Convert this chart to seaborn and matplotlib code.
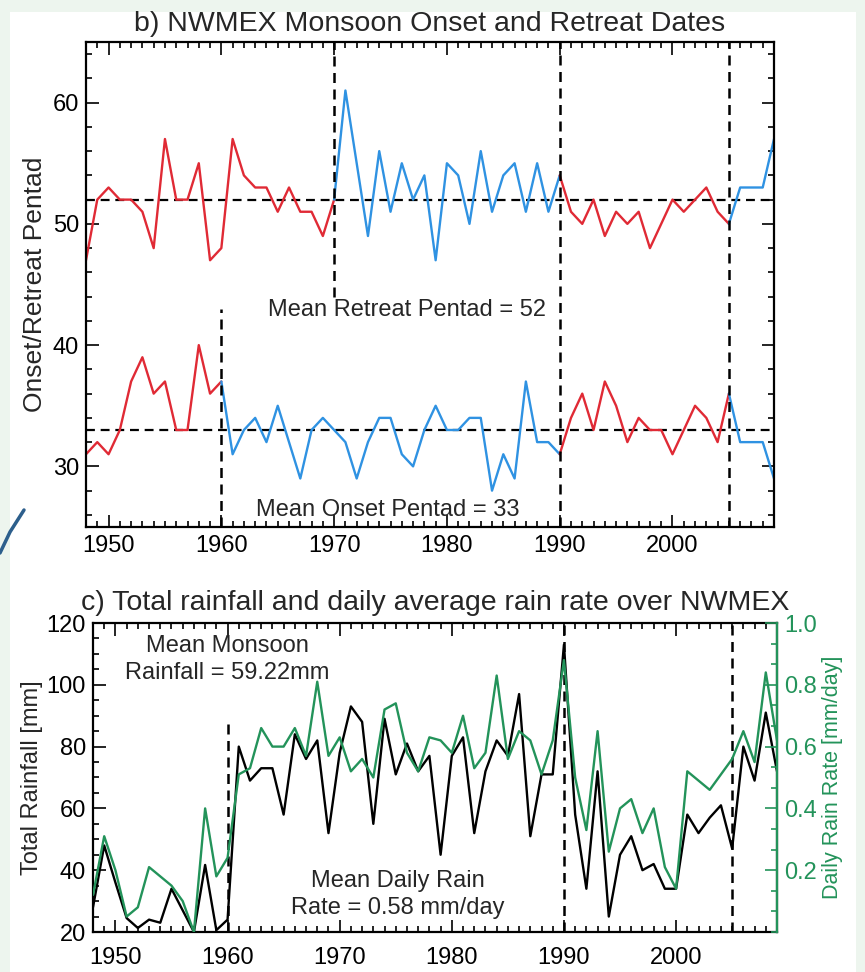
import numpy as np
import pandas as pd
import matplotlib
matplotlib.use("Agg")
import matplotlib.pyplot as plt
import seaborn as sns
from matplotlib.ticker import MultipleLocator, FormatStrFormatter
from matplotlib.lines import Line2D
from matplotlib.patches import Rectangle

# ---------------- data ----------------
years = list(range(1948, 2010))
retreat = [47, 52, 53, 52, 52, 51, 48, 57, 52, 52, 55, 47, 48, 57, 54, 53, 53, 51, 53, 51,
           51, 49, 52, 61, 55, 49, 56, 51, 55, 52, 54, 47, 55, 54, 50, 56, 51, 54, 55, 51,
           55, 51, 54, 51, 50, 52, 49, 51, 50, 51, 48, 50, 52, 51, 52, 53, 51, 50, 53, 53,
           53, 57]
onset = [31, 32, 31, 33, 37, 39, 36, 37, 33, 33, 40, 36, 37, 31, 33, 34, 32, 35, 32, 29,
         33, 34, 33, 32, 29, 32, 34, 34, 31, 30, 33, 35, 33, 33, 34, 34, 28, 31, 29, 37,
         32, 32, 31, 34, 36, 33, 37, 35, 32, 34, 33, 33, 31, 33, 35, 34, 32, 36, 32, 32,
         32, 29]
rainfall = [28, 48, 36, 24.5, 21.3, 24, 23, 34, 27, 20, 41.7, 20.6, 24, 80, 69, 73, 73, 58,
            84, 76, 82, 52, 78, 93, 88, 55, 89, 71, 81, 72, 77, 45, 77, 83, 52, 72, 82, 77,
            97, 51, 71, 71, 113, 58, 34, 72, 25, 45, 51, 40, 42, 34, 34, 58, 52, 57, 61, 47,
            80, 69, 91, 72]
rain_rate = [0.12, 0.31, 0.20, 0.05, 0.08, 0.21, 0.18, 0.15, 0.10, 0.0, 0.40, 0.18, 0.24,
             0.51, 0.53, 0.66, 0.60, 0.60, 0.66, 0.57, 0.81, 0.57, 0.63, 0.52, 0.56, 0.50,
             0.72, 0.74, 0.58, 0.52, 0.63, 0.62, 0.58, 0.70, 0.53, 0.58, 0.83, 0.56, 0.65,
             0.62, 0.51, 0.62, 0.88, 0.50, 0.33, 0.65, 0.26, 0.40, 0.43, 0.32, 0.40, 0.21,
             0.14, 0.52, 0.49, 0.46, 0.51, 0.56, 0.65, 0.55, 0.84, 0.62]
retreat_periods = [(1948, 1970), (1970, 1990), (1990, 2005), (2005, 2009)]
onset_periods = [(1948, 1960), (1960, 1990), (1990, 2005), (2005, 2009)]
mean_retreat = 52
mean_onset = 33
xticks = [1950, 1960, 1970, 1980, 1990, 2000]

RED = "#e02a35"
BLUE = "#2f92e2"
GREEN = "#23935a"

sns.set_theme(style="white")
plt.rcParams['font.family'] = ['Liberation Sans', 'DejaVu Sans']

W, H = 865, 972
fig = plt.figure(figsize=(W / 100, H / 100), dpi=100, facecolor="#edf5ee")
fig.add_artist(Rectangle((10 / W, 0), (856 - 10) / W, (H - 12) / H,
                         transform=fig.transFigure, facecolor="white",
                         edgecolor="none", zorder=0))
fig.add_artist(Line2D([0 / W, 10 / W, 24 / W], [1 - 553 / H, 1 - 532 / H, 1 - 510 / H],
                      transform=fig.transFigure, color="#2d5f8c", lw=2.5))

def fx(px):
    return px / W

def fy(py):
    return 1 - py / H

def style_axis(ax, xpad):
    for s in ax.spines.values():
        s.set_color("black")
        s.set_linewidth(1.6)
    ax.tick_params(which="both", direction="in", top=True, bottom=True,
                   left=True, right=True, colors="black", labelsize=17, width=1.2)
    ax.tick_params(which="major", length=9)
    ax.tick_params(which="minor", length=4.5)
    ax.tick_params(axis="x", pad=xpad)
    ax.tick_params(axis="y", pad=5)

def draw_segments(ax, yrs, vals, periods, colors):
    df = pd.DataFrame({"year": yrs, "val": vals})
    for (a, b), c in zip(periods, colors):
        seg = df[(df.year >= a) & (df.year <= b)]
        sns.lineplot(data=seg, x="year", y="val", ax=ax, color=c, lw=1.7,
                     estimator=None, legend=False)

dash = (0, (4, 2.6))

# ---------------- top panel ----------------
ax1 = fig.add_axes([fx(86), fy(527), fx(774 - 86), (527 - 42) / H])
draw_segments(ax1, years, retreat, retreat_periods, [RED, BLUE, RED, BLUE])
draw_segments(ax1, years, onset, onset_periods, [RED, BLUE, RED, BLUE])
ax1.axhline(mean_retreat, color="black", ls=dash, lw=1.6, zorder=1)
ax1.axhline(mean_onset, color="black", ls=dash, lw=1.6, zorder=1)
ax1.vlines(1970, 44, 65, colors="black", linestyles=dash, lw=1.8)
ax1.vlines(1960, 25, 43, colors="black", linestyles=dash, lw=1.8)
ax1.vlines([1990, 2005], 25, 65, colors="black", linestyles=dash, lw=1.8)
ax1.set_xlim(1948, 2009)
ax1.set_ylim(25, 65)
ax1.set_xticks(xticks)
ax1.xaxis.set_minor_locator(MultipleLocator(1))
ax1.set_yticks([30, 40, 50, 60])
ax1.yaxis.set_minor_locator(MultipleLocator(2))
style_axis(ax1, 6)
ax1.set_xlabel("")
ax1.set_ylabel("Onset/Retreat Pentad", fontsize=19, labelpad=4)
ax1.set_title("b) NWMEX Monsoon Onset and Retreat Dates", fontsize=20.5, pad=8)
ax1.text(0.467, 0.447, f"Mean Retreat Pentad = {mean_retreat}", transform=ax1.transAxes,
         ha="center", va="center", fontsize=17)
ax1.text(0.439, 0.035, f"Mean Onset Pentad = {mean_onset}", transform=ax1.transAxes,
         ha="center", va="center", fontsize=17)

# ---------------- bottom panel ----------------
ax2 = fig.add_axes([fx(93), fy(932), fx(777 - 93), (932 - 623) / H])
ax3 = ax2.twinx()
dfb = pd.DataFrame({"year": years, "rain": rainfall, "rate": rain_rate})
sns.lineplot(data=dfb, x="year", y="rain", ax=ax2, color="black", lw=1.7,
             estimator=None, legend=False)
sns.lineplot(data=dfb, x="year", y="rate", ax=ax3, color=GREEN, lw=1.7,
             estimator=None, legend=False)
ax2.vlines(1960, 20, 89, colors="black", linestyles=dash, lw=1.8)
ax2.vlines([1990, 2005], 20, 120, colors="black", linestyles=dash, lw=1.8)
ax2.set_xlim(1948, 2009)
ax2.set_ylim(20, 120)
ax3.set_ylim(0, 1.0)
ax2.set_xticks(xticks)
ax2.xaxis.set_minor_locator(MultipleLocator(1))
ax2.set_yticks([20, 40, 60, 80, 100, 120])
ax2.yaxis.set_minor_locator(MultipleLocator(5))
ax3.set_yticks([0.2, 0.4, 0.6, 0.8, 1.0])
ax3.yaxis.set_minor_locator(MultipleLocator(0.2 / 3))
style_axis(ax2, 11)
ax2.tick_params(which="both", right=False)
for s in ax3.spines.values():
    s.set_visible(False)
ax3.spines["right"].set_visible(True)
ax3.spines["right"].set_color(GREEN)
ax3.spines["right"].set_linewidth(1.6)
ax3.tick_params(which="both", direction="in", right=True, left=False,
                colors=GREEN, labelsize=17, width=1.2, pad=5)
ax3.tick_params(which="major", length=9)
ax3.tick_params(which="minor", length=4.5)
ax3.yaxis.set_major_formatter(FormatStrFormatter("%.1f"))
ax2.set_xlabel("")
ax2.set_ylabel("Total Rainfall [mm]", fontsize=17, labelpad=3)
ax3.set_ylabel("Daily Rain Rate [mm/day]", fontsize=15.5, color=GREEN, labelpad=4)
ax2.set_title("c) Total rainfall and daily average rain rate over NWMEX",
              fontsize=20.5, pad=9)
ax2.text(0.196, 0.882, "Mean Monsoon\nRainfall = 59.22mm", transform=ax2.transAxes,
         ha="center", va="center", fontsize=17, linespacing=1.25)
ax2.text(0.446, 0.121, "Mean Daily Rain\nRate = 0.58 mm/day", transform=ax2.transAxes,
         ha="center", va="center", fontsize=17, linespacing=1.25)

fig.savefig("out.png", dpi=100, facecolor=fig.get_facecolor())
